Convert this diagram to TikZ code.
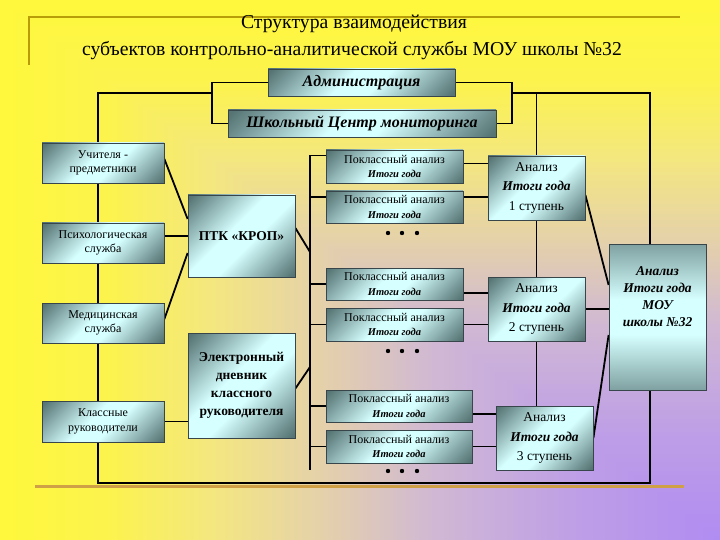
\documentclass[tikz,border=0pt]{standalone}
\usepackage{fontspec}
\setmainfont{Liberation Serif}
\usetikzlibrary{calc}
\definecolor{fonY}{HTML}{FFF83C}
\definecolor{fonY1}{HTML}{FCF34E}
\definecolor{fonY2}{HTML}{F3E682}
\definecolor{fonB}{HTML}{E4D0AC}
\definecolor{fonL}{HTML}{D0B8D4}
\definecolor{fonL2}{HTML}{BE9EE6}
\definecolor{fonP}{HTML}{B08CF2}
\definecolor{blokD}{HTML}{567474}
\definecolor{blokL}{HTML}{D6FFFF}
\definecolor{blokR}{HTML}{38464C}
\definecolor{zoloto}{HTML}{B89C08}
\definecolor{zolotoN}{HTML}{CFA046}
\pgfdeclarehorizontalshading{metall}{100bp}{color(0bp)=(blokD); color(16bp)=(blokD); color(44bp)=(blokL); color(56bp)=(blokL); color(84bp)=(blokD); color(100bp)=(blokD)}
\pgfdeclarelayer{zadnik}
\pgfsetlayers{zadnik,main}
\tikzset{
  blok/.style 2 args={rectangle, draw=blokR, line width=0.8pt, shading=metall, shading angle=-45,
              align=center, inner sep=0pt, minimum width=#1, minimum height=#2},
  melkij/.style={font=\fontsize{12}{14.5}\selectfont},
  zhirnyj/.style={font=\bfseries\fontsize{13.5}{18}\selectfont},
  kursiv/.style={font=\bfseries\itshape\fontsize{16}{18}\selectfont},
  analiz/.style={font=\fontsize{13.5}{19.5}\selectfont},
  svyaz/.style={draw=black, line width=1.8pt},
}
\newcommand{\itogi}{\textbf{\textit{Итоги года}}}
\newcommand{\poklass}{Поклассный анализ\\{\fontsize{10.5}{12}\selectfont\bfseries\itshape Итоги года}}

\begin{document}
\begin{tikzpicture}[x=1pt, y=-1pt]
  \useasboundingbox (0,0) rectangle (720,540);

  % zagolovok
  \node[font=\fontsize{19.7}{24}\selectfont] (zag1) at (354,24) {Структура взаимодействия};
  \node[font=\fontsize{19.7}{24}\selectfont] (zag2) at (352,51) {субъектов контрольно-аналитической службы МОУ школы №32};

  % verh
  \node[blok={187pt}{27pt}, kursiv] (adm) at (361.5,82.5) {Администрация};
  \node[blok={268pt}{27pt}, kursiv] (scm) at (362,123.5) {Школьный Центр мониторинга};

  % sleva
  \node[blok={122pt}{40pt}, melkij] (uch) at (103,163) {Учителя -\\предметники};
  \node[blok={122pt}{40pt}, melkij] (psi) at (103,243) {Психологическая\\служба};
  \node[blok={122pt}{40pt}, melkij] (med) at (103,323) {Медицинская\\служба};
  \node[blok={122pt}{41pt}, melkij] (kla) at (103,421.5) {Классные\\руководители};
  \node[blok={107pt}{82pt}, zhirnyj] (ptk) at (241.5,236) {ПТК «КРОП»};
  \node[blok={107pt}{105pt}, zhirnyj] (edn) at (241.5,385.5) {Электронный\\дневник\\классного\\руководителя};

  % poklassnyj analiz
  \node[blok={137pt}{33pt}, melkij] (pk1) at (394.5,166.5) {\poklass};
  \node[blok={137pt}{32pt}, melkij] (pk2) at (394.5,207) {\poklass};
  \node[blok={137pt}{32pt}, melkij] (pk3) at (394.5,284) {\poklass};
  \node[blok={137pt}{33pt}, melkij] (pk4) at (394.5,324.5) {\poklass};
  \node[blok={146pt}{32pt}, melkij] (pk5) at (399,406) {\poklass};
  \node[blok={146pt}{33pt}, melkij] (pk6) at (399,446.5) {\poklass};

  % analiz po stupenyam
  \node[blok={97pt}{64pt}, analiz] (an1) at (536.5,188) {Анализ\\\itogi\\1 ступень};
  \node[blok={97pt}{64pt}, analiz] (an2) at (536.5,309) {Анализ\\\itogi\\2 ступень};
  \node[blok={97pt}{64pt}, analiz] (an3) at (544.5,438) {Анализ\\\itogi\\3 ступень};
  \node[blok={97pt}{146pt}, shading angle=90, font=\bfseries\itshape\fontsize{13.5}{17}\selectfont, text depth=40pt] (mou) at (657.5,317)
    {Анализ\\Итоги года\\МОУ\\школы №32};

  \foreach \yy in {233,351,471}
    \foreach \xx in {388,402,417}
      \fill (\xx,\yy) circle (2.2pt);

  \coordinate (ugol) at (720,540);
  \coordinate (ramLV) at (98,93);
  \coordinate (ramLN) at (98,483);
  \coordinate (ramPN) at (650,483);
  \coordinate (ramPV) at (650,93);
  \coordinate (skL) at (212,93);
  \coordinate (skP) at (512,93);
  \coordinate (shina) at (310,470);
  \coordinate (uzel1) at (310,252);
  \coordinate (uzel2) at (310,367);

  \begin{pgfonlayer}{zadnik}
    % fon: gradient ot pravogo nizhnego ugla
    \foreach \dA/\dB/\cA/\cB in {1/0.85/fonY/fonY1, 0.85/0.7/fonY1/fonY2, 0.7/0.55/fonY2/fonB,
                                 0.55/0.4/fonB/fonL, 0.4/0.2/fonL/fonL2, 0.2/0/fonL2/fonP}
      \foreach \k in {0,...,24} {
        \pgfmathsetmacro\dd{\dA+(\dB-\dA)*\k/25}
        \pgfmathsetmacro\pp{100-4*\k}
        \fill[\cA!\pp!\cB] (ugol) ++(-720*\dd,-540*\dd) rectangle (ugol);
      }
    \draw[zoloto, line width=2pt] (680,17) -- (29,17) -- (29,65);
    \draw[zolotoN, line width=3pt] (35,486.5) -- (684,486.5);
    % ramka
    \draw[svyaz] (adm.west) -| (skL) |- (scm.west);
    \draw[svyaz] (adm.east) -| (skP) |- (scm.east);
    \draw[svyaz] (skL) -- (ramLV) -- (ramLN) -- (ramPN) -- (ramPV) -- (skP);
    \draw[svyaz] (an1.north) -- (an1.north |- ramPV);
    % sleva
    \draw[svyaz] ([yshift=4pt]uch.east) -- ([yshift=17pt]ptk.west);
    \draw[svyaz] (ptk.west) -- (ptk.west -| psi.east);
    \draw[svyaz] ([yshift=4pt]med.east) -- ([yshift=-17pt]ptk.west);
    \draw[svyaz] (kla.east) -- (kla.east -| edn.west);
    % shina
    \draw[svyaz] ([yshift=11pt]pk1.west) -| (shina);
    \draw[svyaz] ([yshift=10pt]pk2.west) -- ([yshift=10pt]pk2.west -| shina);
    \foreach \n in {pk3,pk4,pk5,pk6}
      \draw[svyaz] (\n.west) -- (\n.west -| shina);
    \draw[svyaz] ([yshift=8pt]ptk.east) -- (uzel1);
    \draw[svyaz] ([yshift=-3pt]edn.east) -- (uzel2);
    % sprava
    \foreach \n/\a/\s in {pk1/an1/3,pk2/an1/10,pk3/an2/-9,pk4/an2/0,pk5/an3/-8,pk6/an3/0}
      \draw[svyaz] ([yshift=\s pt]\n.east) -- ([yshift=\s pt]\n.east -| \a.west);
    \draw[svyaz] (an1.south) -- (an2.north);
    \draw[svyaz] (an2.south) -- (an2.south |- an3.north);
    \draw[svyaz] ([yshift=-7pt]an1.east) -- ([yshift=32pt]mou.west);
    \draw[svyaz] (an2.east) -- (an2.east -| mou.west);
    \draw[svyaz] (an3.east) -- ([yshift=-18pt]mou.west);
  \end{pgfonlayer}
\end{tikzpicture}
\end{document}
